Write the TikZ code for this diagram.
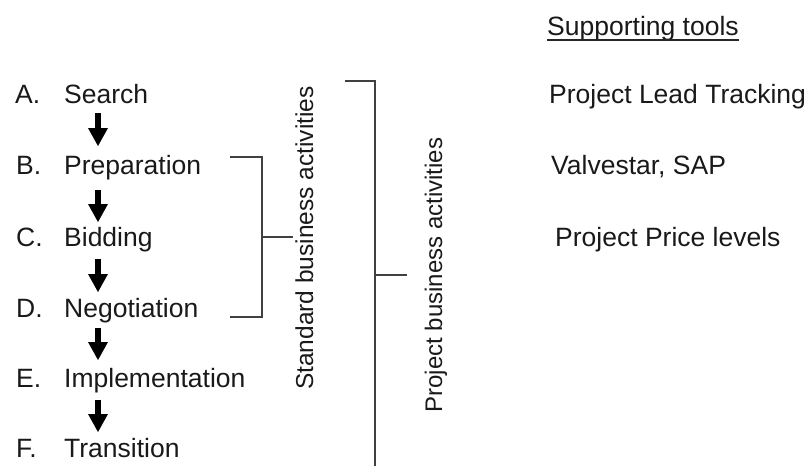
\documentclass[tikz,border=0pt]{standalone}
\usepackage{fontspec}
\setmainfont{Liberation Sans}
\usetikzlibrary{arrows.meta}
\begin{document}
\begin{tikzpicture}[x=1pt,y=-1pt,
  txt/.style={anchor=base west,inner sep=0pt,text=black!90,font=\fontsize{26.5}{30}\selectfont},
  vtxt/.style={anchor=base,inner sep=0pt,rotate=90,text=black!90,font=\fontsize{24}{28}\selectfont},
  arr/.style={line width=6pt,-{Triangle[width=20pt,length=18pt,line width=0pt]}},
  brk/.style={line width=1.4pt,draw=black!75}]
\useasboundingbox (0,0) rectangle (809,466);
% activity list
\node[txt] (lA) at (15,103) {A.};
\node[txt] (wA) at (64,103) {Search};
\node[txt] (lB) at (16,174) {B.};
\node[txt] (wB) at (64,174) {Preparation};
\node[txt] (lC) at (16,246) {C.};
\node[txt] (wC) at (64,246) {Bidding};
\node[txt] (lD) at (16,317) {D.};
\node[txt] (wD) at (64,317) {Negotiation};
\node[txt] (lE) at (16,387) {E.};
\node[txt] (wE) at (64,387) {Implementation};
\node[txt] (lF) at (16,457) {F.};
\node[txt] (wF) at (64,457) {Transition};
% arrows
\draw[arr] ([shift={(34,10)}]wA.base west) -- ([shift={(34,-28)}]wB.base west);
\draw[arr] ([shift={(34,16)}]wB.base west) -- ([shift={(34,-24)}]wC.base west);
\draw[arr] ([shift={(34,13)}]wC.base west) -- ([shift={(34,-25)}]wD.base west);
\draw[arr] ([shift={(34,11)}]wD.base west) -- ([shift={(34,-27)}]wE.base west);
\draw[arr] ([shift={(34,13)}]wE.base west) -- ([shift={(34,-25)}]wF.base west);
% standard bracket
\coordinate (sT) at (230,157);
\coordinate (sTR) at (262,157);
\coordinate (sBR) at (262,317);
\coordinate (sB) at (230,317);
\coordinate (sM) at (262,237);
\coordinate (sMt) at (293,237);
\draw[brk] (sT) -- (sTR) -- (sBR) -- (sB);
\draw[brk] (sM) -- (sMt);
\node[vtxt,font=\fontsize{24.5}{28}\selectfont] (sv) at (313,238) {Standard business activities};
% project bracket
\coordinate (pT) at (345,81);
\coordinate (pTR) at (375,81);
\coordinate (pBR) at (375,470);
\coordinate (pM) at (375,275);
\coordinate (pMt) at (407,275);
\draw[brk] (pT) -- (pTR) -- (pBR);
\draw[brk] (pM) -- (pMt);
\node[vtxt] (pv) at (442,275) {Project business activities};
% supporting tools
\node[txt] (st) at (547,35) {Supporting tools};
\draw[line width=1.5pt,black!85] ([yshift=-5pt]st.base west) -- ([yshift=-5pt]st.base east);
\node[txt] (t1) at (549,103) {Project Lead Tracking};
\node[txt] (t2) at (551,174) {Valvestar, SAP};
\node[txt] (t3) at (555,246) {Project Price levels};
\end{tikzpicture}
\end{document}
